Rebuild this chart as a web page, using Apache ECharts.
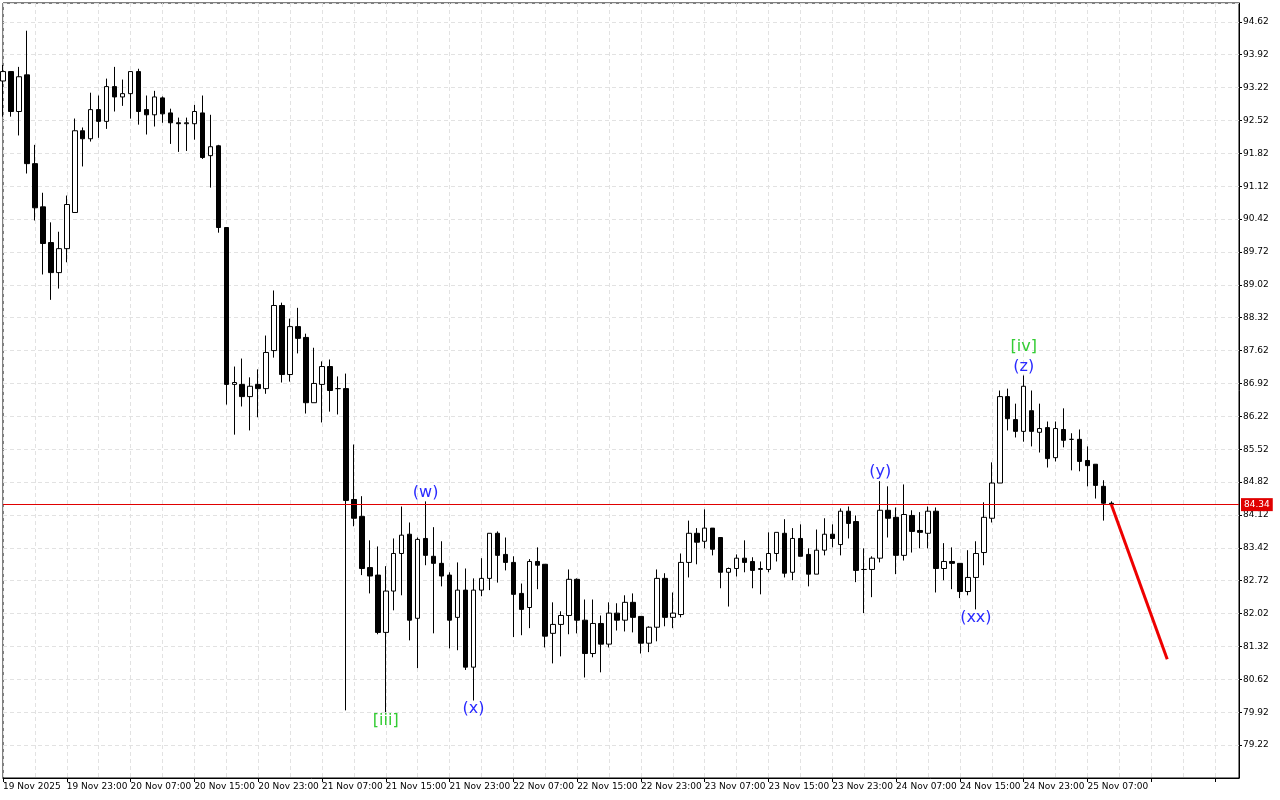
<!DOCTYPE html>
<html>
<head>
<meta charset="utf-8">
<script src="https://cdn.jsdelivr.net/npm/echarts@6/dist/echarts.min.js"></script>
<style>
  html, body { margin: 0; padding: 0; background: #fff; }
  #chart { width: 1280px; height: 800px; }
</style>
</head>
<body>
<div id="chart"></div>
<script>
// hourly bars, first bar 19 Nov 15:00
const opens = [93.36,93.56,92.71,93.49,91.6,90.68,89.92,89.28,89.79,90.56,92.3,92.13,92.75,92.5,93.24,93.02,93.09,93.56,92.75,92.64,93.0,92.68,92.47,92.45,92.45,92.68,91.77,91.98,90.24,86.9,86.9,86.64,86.9,86.81,87.62,88.58,87.11,88.13,87.9,86.51,86.9,87.28,86.81,86.81,84.45,84.09,83.0,82.84,81.62,82.5,83.3,83.71,81.92,83.62,83.24,83.09,82.84,81.94,82.52,80.88,82.52,82.77,83.73,83.28,83.11,82.45,82.15,83.13,83.07,81.6,81.79,81.98,82.75,81.88,81.17,81.81,81.37,82.03,81.88,82.26,81.96,81.39,81.73,82.77,81.94,82.0,83.11,83.73,83.56,83.84,83.64,82.9,82.98,83.2,83.13,82.96,82.96,83.3,83.73,82.9,83.62,83.28,82.86,83.37,83.71,83.49,84.2,83.98,82.96,82.96,83.2,84.22,84.07,83.26,84.11,83.79,83.73,84.2,82.98,83.13,83.09,82.49,82.79,83.32,84.05,84.8,86.64,86.15,85.9,86.34,85.88,85.98,85.34,85.94,85.73,85.73,85.28,85.2,84.73,84.37];
const closes = [93.56,92.71,93.45,91.6,90.66,89.9,89.28,89.79,90.73,92.3,92.13,92.75,92.5,93.24,93.02,93.09,93.56,92.71,92.64,93.02,92.66,92.47,92.45,92.47,92.71,91.73,91.96,90.24,86.9,86.94,86.64,86.86,86.81,87.58,88.58,87.11,88.13,87.88,86.51,86.92,87.28,86.77,86.81,84.43,84.05,82.98,82.82,81.62,82.5,83.3,83.69,81.88,83.6,83.26,83.09,82.82,81.88,82.52,80.88,82.52,82.77,83.73,83.26,83.11,82.43,82.11,83.13,83.05,81.54,81.79,81.98,82.75,81.88,81.17,81.81,81.37,82.03,81.88,82.26,81.94,81.39,81.73,82.77,81.94,82.03,83.11,83.73,83.54,83.84,83.39,82.9,82.98,83.2,83.11,82.94,82.98,83.3,83.75,82.88,83.62,83.24,82.86,83.37,83.71,83.62,84.2,83.94,82.94,82.96,83.2,84.22,84.05,83.26,84.13,83.77,83.75,84.2,82.98,83.13,83.09,82.49,82.79,83.3,84.07,84.8,86.64,86.17,85.9,86.86,85.9,85.96,85.32,85.96,85.71,85.73,85.26,85.17,84.75,84.37,84.34];
const lows = [92.6,92.6,92.2,91.39,90.39,89.24,88.7,88.94,89.5,90.56,91.54,92.07,92.15,92.34,92.71,92.83,92.56,92.43,92.22,92.39,92.47,92.02,91.85,91.87,92.11,91.7,91.09,90.13,86.47,85.83,86.43,85.92,86.2,86.7,87.47,86.94,86.96,87.56,86.28,86.51,86.09,86.32,86.26,79.96,83.88,82.84,82.45,81.58,79.92,82.09,82.41,81.45,80.86,83.05,81.6,82.6,81.28,81.24,80.82,80.17,82.39,82.52,82.68,82.94,81.52,81.56,81.71,82.54,81.3,80.96,81.11,81.58,81.6,80.66,81.09,80.77,81.3,81.66,81.64,81.62,81.17,81.2,81.43,81.75,81.71,81.94,82.79,83.07,83.41,83.26,82.56,82.17,82.81,82.9,82.56,82.43,82.9,83.13,82.79,82.73,83.24,82.6,82.86,83.26,83.43,83.26,83.62,82.69,82.03,82.37,83.11,83.64,82.86,83.15,83.32,83.41,83.41,82.47,82.73,82.54,82.35,82.41,82.11,83.05,83.96,84.8,85.92,85.77,85.68,85.58,85.45,85.13,85.26,85.56,85.07,85.05,84.73,84.47,84.0,84.3];
const highs = [93.7,93.56,93.66,94.43,92.0,90.98,90.35,90.15,90.92,92.56,92.37,93.11,93.05,93.41,93.66,93.39,93.56,93.62,93.05,93.15,93.03,92.77,92.58,92.58,92.85,93.05,92.64,92.0,90.24,87.28,87.45,87.05,87.22,87.94,88.9,88.64,88.3,88.53,87.98,87.68,87.39,87.43,87.07,87.13,85.62,84.52,83.58,83.45,83.03,83.62,84.3,83.96,83.64,84.41,83.86,83.56,82.9,83.11,82.98,82.77,83.2,83.73,83.77,83.64,83.24,82.66,83.18,83.43,83.07,82.26,82.07,82.96,82.77,82.32,82.32,81.98,82.26,82.24,82.41,82.45,81.96,81.75,82.96,82.88,82.47,83.3,84.0,83.84,84.24,83.84,83.64,83.0,83.28,83.58,83.22,83.13,83.75,83.75,84.03,83.84,83.92,83.41,83.81,84.05,83.92,84.26,84.3,84.11,83.41,83.24,84.84,84.73,84.28,84.77,84.22,84.18,84.3,84.28,83.52,83.43,83.09,83.37,83.56,84.39,85.24,86.77,86.81,86.49,87.09,86.77,86.49,86.11,86.11,86.39,85.86,85.94,85.58,85.2,84.86,84.41];
const currentPrice = 84.34;
const forecastIdx = [139, 146];
const forecastVal = [84.34, 81.05];
// wave labels: [bar index, price, text, colour]
const waveLabels = [
  [48, 79.73, '[iii]', '#33cc33'],
  [53, 84.60, '(w)', '#2a2aff'],
  [59, 80.00, '(x)', '#2a2aff'],
  [110, 85.03, '(y)', '#2a2aff'],
  [122, 81.94, '(xx)', '#2a2aff'],
  [128, 87.28, '(z)', '#2a2aff'],
  [128, 87.69, '[iv]', '#33cc33']
];
const totalBars = 156;
const lastLabelBar = 136;

const months = ['Jan','Feb','Mar','Apr','May','Jun','Jul','Aug','Sep','Oct','Nov','Dec'];
const categories = [];
for (let i = 0; i < totalBars; i++) {
  const d = new Date(Date.UTC(2025, 10, 19, 15 + i));
  const hh = String(d.getUTCHours()).padStart(2, '0');
  categories.push(i === 0 ? '19 Nov 2025' : d.getUTCDate() + ' ' + months[d.getUTCMonth()] + ' ' + hh + ':00');
}

const candles = opens.map((o, i) => [o, closes[i], lows[i], highs[i]]);
const forecast = new Array(totalBars).fill(null);
forecastIdx.forEach((k, j) => { forecast[k] = forecastVal[j]; });

const chart = echarts.init(document.getElementById('chart'));
chart.setOption({
  animation: false,
  backgroundColor: '#fff',
  grid: { left: 3, right: 41, top: 3, bottom: 22, show: true, borderColor: '#000', borderWidth: 1 },
  xAxis: {
    type: 'category',
    data: categories,
    boundaryGap: false,
    axisLine: { lineStyle: { color: '#000' } },
    axisTick: { interval: 7, length: 4, lineStyle: { color: '#000' } },
    axisLabel: { interval: (i) => i % 8 === 0 && i <= lastLabelBar, align: 'left', color: '#000', fontSize: 9,
      fontFamily: 'DejaVu Sans', margin: 4 },
    splitLine: { show: true, interval: 3, lineStyle: { color: '#e2e2e2', type: [4, 3] } }
  },
  yAxis: {
    type: 'value',
    position: 'right',
    min: 78.52,
    max: 95.02,
    interval: 0.7,
    axisLine: { show: true, lineStyle: { color: '#000' } },
    axisTick: { show: true, length: 3, lineStyle: { color: '#000' } },
    axisLabel: { color: '#000', fontSize: 9, fontFamily: 'DejaVu Sans', margin: 4, showMinLabel: false, showMaxLabel: false,
      formatter: v => v.toFixed(2) },
    splitLine: { lineStyle: { color: '#e2e2e2', type: [4, 3] } }
  },
  series: [
    {
      type: 'candlestick',
      data: candles,
      barWidth: 5,
      itemStyle: { color: '#fff', color0: '#000', borderColor: '#000', borderColor0: '#000', borderWidth: 1 },
      markLine: {
        silent: true,
        symbol: 'none',
        lineStyle: { color: '#e00000', width: 1, type: 'solid' },
        label: { position: 'end', formatter: currentPrice.toFixed(2), color: '#fff', backgroundColor: '#e00000',
          fontSize: 9, fontFamily: 'DejaVu Sans', padding: [2, 3], distance: 2 },
        data: [{ yAxis: currentPrice }]
      },
      markPoint: {
        silent: true,
        symbol: 'circle',
        symbolSize: 0,
        data: waveLabels.map(w => ({
          coord: [w[0], w[1]],
          label: { show: true, formatter: w[2], color: w[3], fontSize: 16, fontFamily: 'DejaVu Sans', position: 'inside' }
        }))
      }
    },
    {
      type: 'line',
      data: forecast,
      connectNulls: true,
      symbol: 'none',
      lineStyle: { color: '#ee0000', width: 3 },
      z: 5
    }
  ]
});
</script>
</body>
</html>
